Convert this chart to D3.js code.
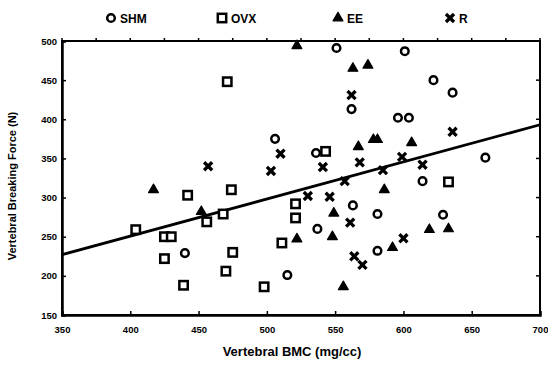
<!DOCTYPE html>
<html>
<head>
<meta charset="utf-8">
<script src="https://cdn.jsdelivr.net/npm/d3@7"></script>
<style>
  body { margin: 0; background: #fff; }
  svg { display: block; font-family: "Liberation Sans", Arial, sans-serif; }
  .tick text { font-size: 9.5px; font-weight: bold; }
</style>
</head>
<body>
<svg id="chart" width="548" height="367"></svg>
<script>
// groups in legend order
const groups = ["SHM", "OVX", "EE", "R"];

// Vertebral BMC (mg/cc) and breaking force (N)
const shmBMC   = [551, 601, 622, 636, 562, 596, 604, 506, 660, 536, 614, 563, 581, 629, 537, 581, 515, 440];
const shmForce = [491, 487, 450, 434, 413, 402, 402, 375, 351, 357, 321, 290, 279, 278, 260, 232, 201, 229];

const ovxBMC   = [471, 442, 474, 456, 468, 404, 425, 430, 425, 475, 470, 439, 498, 511, 633, 521, 521, 543];
const ovxForce = [448, 303, 310, 269, 279, 259, 250, 250, 222, 230, 206, 188, 186, 242, 320, 292, 274, 359];

const eeBMC    = [522, 563, 574, 578, 581, 567, 606, 586, 417, 452, 549, 548, 522, 619, 633, 592, 556];
const eeForce  = [494, 465, 469, 374, 374, 365, 370, 310, 310, 282, 280, 250, 247, 259, 260, 236, 186];

const rBMC     = [562, 510, 457, 503, 541, 568, 599, 614, 636, 585, 557, 530, 546, 561, 600, 564, 570];
const rForce   = [431, 356, 340, 334, 339, 345, 352, 342, 384, 335, 321, 302, 301, 268, 248, 225, 214];

// regression line end points
const fitBMC   = [350, 700];
const fitForce = [227, 393];

const xTicks = [350, 400, 450, 500, 550, 600, 650, 700];
const yTicks = [150, 200, 250, 300, 350, 400, 450, 500];

const svg = d3.select("#chart");
const margin = { top: 41, right: 8, bottom: 52, left: 62 };
const width = 548, height = 367;
const innerW = width - margin.left - margin.right;
const innerH = height - margin.top - margin.bottom;

const x = d3.scaleLinear().domain([350, 700]).range([0, innerW]);
const y = d3.scaleLinear().domain([150, 500]).range([innerH, 0]);

const g = svg.append("g").attr("transform", `translate(${margin.left},${margin.top})`);

// frame
g.append("rect")
  .attr("width", innerW).attr("height", innerH)
  .attr("fill", "none").attr("stroke", "#000").attr("stroke-width", 2);

// axes
const xAxis = g.append("g")
  .attr("transform", `translate(0,${innerH})`)
  .call(d3.axisBottom(x).tickValues(xTicks).tickSize(-4).tickPadding(11));
const yAxis = g.append("g")
  .call(d3.axisLeft(y).tickValues(yTicks).tickSize(-4).tickPadding(5));
[xAxis, yAxis].forEach(a => {
  a.select(".domain").attr("stroke-width", 2.5);
  a.selectAll(".tick line").attr("stroke-width", 1.5);
});

// minor ticks along the top and right edge
const xMinor = d3.range(0, xTicks.length - 1).map(i => (xTicks[i] + xTicks[i + 1]) / 2);
g.append("g").selectAll("line").data(xMinor.concat(xTicks)).join("line")
  .attr("x1", d => x(d)).attr("x2", d => x(d))
  .attr("y1", 0).attr("y2", -3)
  .attr("stroke", "#000").attr("stroke-width", 1.5);
g.append("g").selectAll("line").data(yTicks).join("line")
  .attr("x1", innerW).attr("x2", innerW - 4)
  .attr("y1", d => y(d)).attr("y2", d => y(d))
  .attr("stroke", "#000").attr("stroke-width", 1.5);

// regression line
const fit = fitBMC.map((b, i) => ({ b, f: fitForce[i] }));
g.append("path")
  .datum(fit)
  .attr("fill", "none")
  .attr("stroke", "#000")
  .attr("stroke-width", 2.8)
  .attr("d", d3.line().x(d => x(d.b)).y(d => y(d.f)));

// marker drawing
function marker(sel, type) {
  if (type === "SHM") {
    sel.append("circle").attr("r", 3.8)
      .attr("fill", "#fff").attr("stroke", "#000").attr("stroke-width", 2.5);
  } else if (type === "OVX") {
    sel.append("rect").attr("x", -4.2).attr("y", -4.2).attr("width", 8.4).attr("height", 8.4)
      .attr("fill", "#fff").attr("stroke", "#000").attr("stroke-width", 2.5);
  } else if (type === "EE") {
    sel.append("path").attr("d", d3.symbol(d3.symbolTriangle, 42)())
      .attr("fill", "#000").attr("stroke", "#000").attr("stroke-width", 1.2)
      .attr("stroke-linejoin", "round");
  } else {
    sel.append("path").attr("d", d3.symbol(d3.symbolX, 44)())
      .attr("fill", "none").attr("stroke", "#000").attr("stroke-width", 3.3);
  }
}

const series = [
  { key: "SHM", bmc: shmBMC, force: shmForce },
  { key: "OVX", bmc: ovxBMC, force: ovxForce },
  { key: "EE",  bmc: eeBMC,  force: eeForce },
  { key: "R",   bmc: rBMC,   force: rForce }
];

series.forEach(s => {
  const pts = s.bmc.map((b, i) => ({ b, f: s.force[i] }));
  g.append("g").selectAll("g").data(pts).join("g")
    .attr("transform", d => `translate(${x(d.b)},${y(d.f)})`)
    .each(function () { marker(d3.select(this), s.key); });
});

// legend
const legendX = [111, 222, 338, 450];
const legend = svg.append("g").attr("transform", "translate(0,18)");
groups.forEach((name, i) => {
  const item = legend.append("g").attr("transform", `translate(${legendX[i]},0)`);
  marker(item, name);
  item.append("text")
    .attr("x", 9).attr("y", 4.5)
    .attr("font-size", 12).attr("font-weight", "bold")
    .text(name);
});

// axis titles
svg.append("text")
  .attr("x", 292)
  .attr("y", 356)
  .attr("text-anchor", "middle")
  .attr("font-size", 13).attr("font-weight", "bold")
  .text("Vertebral BMC (mg/cc)");

svg.append("text")
  .attr("transform", `translate(16,186) rotate(-90)`)
  .attr("text-anchor", "middle")
  .attr("font-size", 11).attr("font-weight", "bold")
  .text("Vertebral Breaking Force (N)");
</script>
</body>
</html>
